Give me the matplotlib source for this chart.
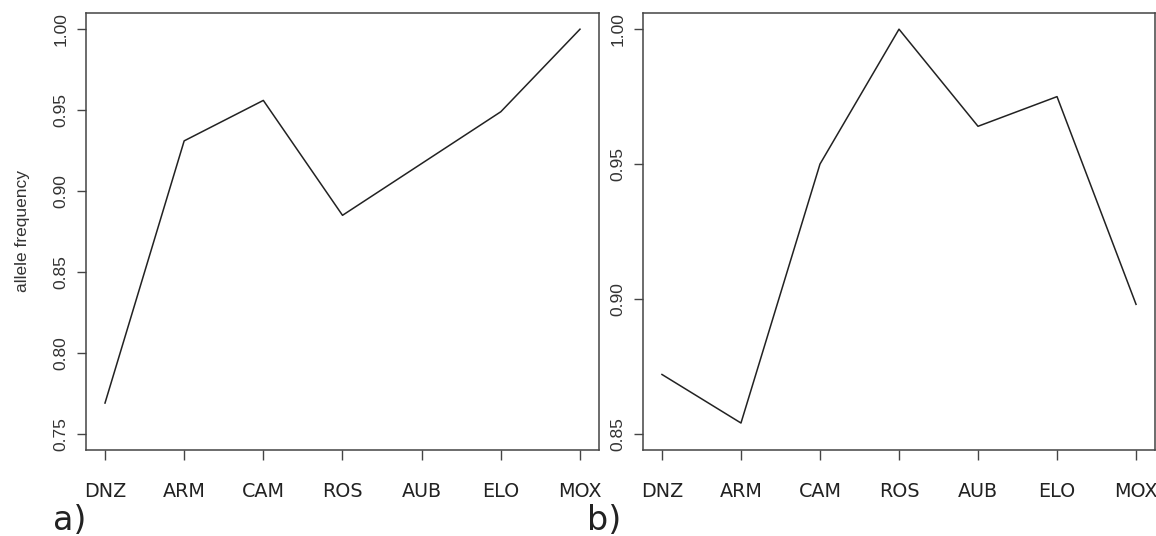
import matplotlib
matplotlib.use("Agg")
import matplotlib.pyplot as plt

# populations, same order in both panels
pops = ["DNZ", "ARM", "CAM", "ROS", "AUB", "ELO", "MOX"]
freq_a = [0.769, 0.931, 0.956, 0.885, 0.917, 0.949, 1.000]
freq_b = [0.872, 0.854, 0.950, 1.000, 0.964, 0.975, 0.898]
yticks_a = [0.75, 0.80, 0.85, 0.90, 0.95, 1.00]
yticks_b = [0.85, 0.90, 0.95, 1.00]

fig = plt.figure(figsize=(11.56, 5.36), dpi=100)
W, H = 1156, 536


def panel(left, right, vals, yt, ylim):
    ax = fig.add_axes([left / W, (H - 450) / H, (right - left) / W, 437 / H])
    x = list(range(1, len(pops) + 1))
    ax.plot(x, vals, color="#222222", lw=1.1)
    ax.set_xlim(0.76, 7.24)
    ax.set_ylim(*ylim)
    ax.set_xticks(x)
    ax.set_xticklabels(pops, fontsize=13.8, family="DejaVu Sans", color="#222222")
    ax.set_yticks(yt)
    ax.set_yticklabels(["%.2f" % v for v in yt], rotation=90, va="center",
                       fontsize=12.5, family="Liberation Sans", color="#333333")
    ax.tick_params(axis="x", length=7.2, width=1, color="#444444", pad=16)
    ax.tick_params(axis="y", length=6.5, width=1, color="#444444", pad=6)
    for s in ax.spines.values():
        s.set_color("#444444")
        s.set_linewidth(1.1)
    return ax


ax1 = panel(86, 599, freq_a, yticks_a, (0.74, 1.01))
ax1.set_ylabel("allele frequency", fontsize=12.5, family="Liberation Sans",
               color="#333333", labelpad=17)
ax2 = panel(643, 1155, freq_b, yticks_b, (0.844, 1.006))

fig.text(53 / W, 0.012, "a)", fontsize=24, family="DejaVu Sans", color="#222222")
fig.text(587 / W, 0.012, "b)", fontsize=24, family="DejaVu Sans", color="#222222")

fig.savefig("out.png", dpi=100)
